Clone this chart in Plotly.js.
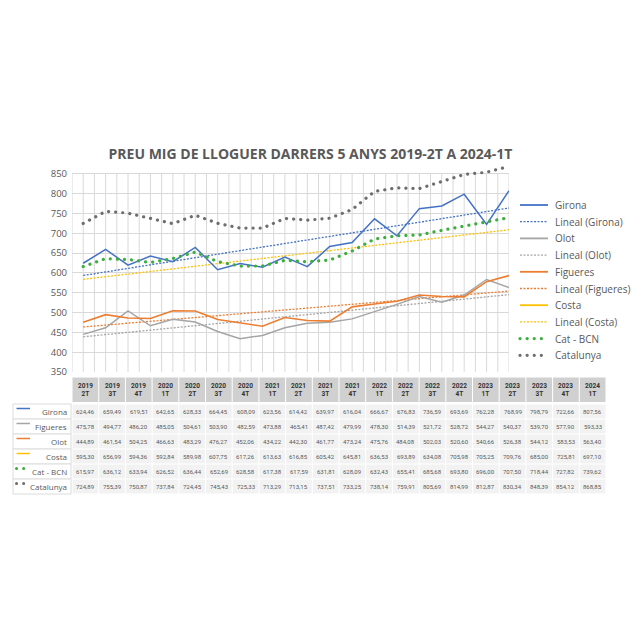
<!DOCTYPE html>
<html><head><meta charset="utf-8">
<script src="https://cdn.plot.ly/plotly-3.0.1.min.js"></script>
<style>
html,body{margin:0;padding:0;background:#fff}
#chart{width:640px;height:640px}
path[style*="dasharray: 0.1px"]{stroke-linecap:round}
</style></head><body><div id="chart"></div>
<script>
// ---------- DATA ----------
const categories = ['2019 2T','2019 3T','2019 4T','2020 1T','2020 2T','2020 3T','2020 4T','2021 1T','2021 2T','2021 3T','2021 4T','2022 1T','2022 2T','2022 3T','2022 4T','2023 1T','2023 2T','2023 3T','2023 4T','2024 1T'];
const girona    = [624.46,659.49,619.51,642.65,628.33,664.45,608.09,623.56,614.42,639.97,616.04,666.67,676.83,736.59,693.69,762.28,768.99,798.79,722.66,807.56];
const figueres  = [475.78,494.77,486.20,485.05,504.61,503.90,482.59,473.88,465.41,487.42,479.99,478.30,514.39,521.72,528.72,544.27,540.37,539.70,577.90,593.33];
const olot      = [444.89,461.54,504.25,466.63,483.29,476.27,452.06,434.22,442.30,461.77,473.24,475.76,484.08,502.03,520.60,540.66,526.38,544.12,583.53,563.40];
const costa     = [595.30,656.99,594.36,592.84,589.98,607.75,617.26,613.63,616.85,605.42,645.81,636.53,693.89,634.08,705.98,705.25,709.76,685.00,725.81,697.10];
const catBcn    = [615.97,636.12,633.94,626.52,636.44,652.69,628.58,617.38,617.59,631.81,628.09,632.43,655.41,685.68,693.80,696.00,707.50,718.44,727.82,739.62];
const catalunya = [724.89,755.39,750.87,737.84,724.45,745.43,725.33,713.29,713.15,737.51,733.25,738.14,759.91,805.69,814.99,812.87,830.34,848.39,854.12,868.85];
const yTicks = [350,400,450,500,550,600,650,700,750,800,850];
const titleText = 'PREU MIG DE LLOGUER DARRERS 5 ANYS 2019-2T A 2024-1T';
const legendNames = ['Girona','Lineal (Girona)','Olot','Lineal (Olot)','Figueres','Lineal (Figueres)','Costa','Lineal (Costa)','Cat - BCN','Catalunya'];
const tableRowNames = ['Girona','Figueres','Olot','Costa','Cat - BCN','Catalunya'];
const tableRowValues = [girona, figueres, olot, costa, catBcn, catalunya];

// ---------- STYLE ----------
const C = {girona:'#4472C4', olot:'#A5A5A5', figueres:'#ED7D31', costa:'#FFC000', cat:'#3DAE3D', catalunya:'#6E6E6E'};
const DOTS = '0.1px,7px';
const TREND = '2px,1.5px';
const textGray = '#595959';

// geometry (pixels)
const L = 72, R = 509, T = 162, B = 372;
const px = x => (x - L) / (R - L);
const py = y => (B - y) / (B - T);

const idx = categories.map((_, i) => i);
function linfit(ys){
  const n = ys.length; let sx=0, sy=0, sxx=0, sxy=0;
  ys.forEach((y,i)=>{sx+=i; sy+=y; sxx+=i*i; sxy+=i*y;});
  const m = (n*sxy - sx*sy)/(n*sxx - sx*sx); const b = (sy - m*sx)/n;
  return [b, b + m*(n-1)];
}
function trend(ys, color){
  return {x:[0, ys.length-1], y:linfit(ys), mode:'lines', line:{color, width:1.3, dash:TREND}, hoverinfo:'skip', showlegend:false};
}
function series(ys, color, width, dash){
  return {x:idx, y:ys, mode:'lines', line:{color, width, dash:dash||'solid'}, showlegend:false};
}

const traces = [
  trend(girona, C.girona), trend(olot, C.olot), trend(figueres, C.figueres), trend(costa, C.costa),
  series(olot, C.olot, 1.5), series(figueres, C.figueres, 1.6), series(girona, C.girona, 1.5),
  series(catBcn, C.cat, 3.2, DOTS), series(catalunya, C.catalunya, 3.2, DOTS)
];

const shapes = [];
const annotations = [];

// vertical gridlines (half-category), limited to 350..850
for (let k = 0; k <= 39; k++) {
  const xv = -0.5 + 0.5*k;
  shapes.push({type:'line', xref:'x', yref:'y', x0:xv, x1:xv, y0:yTicks[0], y1:yTicks[yTicks.length-1], line:{color:'#D9D9D9', width:1}, layer:'below'});
}

// legend (custom)
const legendStyles = [
  [C.girona,1.8,'solid'],[C.girona,1.3,TREND],[C.olot,1.8,'solid'],[C.olot,1.3,TREND],
  [C.figueres,1.8,'solid'],[C.figueres,1.3,TREND],[C.costa,1.8,'solid'],[C.costa,1.3,TREND],
  [C.cat,3.2,DOTS],[C.catalunya,3.2,DOTS]
];
legendNames.forEach((name, i) => {
  const yy = 205 + 16.7*i;
  const st = legendStyles[i];
  shapes.push({type:'line', xref:'paper', yref:'paper', x0:px(520), x1:px(548), y0:py(yy), y1:py(yy), line:{color:st[0], width:st[1], dash:st[2]}});
  annotations.push({xref:'paper', yref:'paper', x:px(553), y:py(yy), xanchor:'left', yanchor:'middle', text:name, showarrow:false, font:{family:'Open Sans', size:10, color:textGray}});
});

// table
const colW = 26.7, tx0 = 72, hTop = 377.5, hBot = 402, rowH = 15, rTop = 404;
categories.forEach((c, j) => {
  const x0 = tx0 + j*colW;
  shapes.push({type:'rect', xref:'paper', yref:'paper', x0:px(x0+0.5), x1:px(x0+colW-0.5), y0:py(hTop), y1:py(hBot), fillcolor:'#D0D0D0', line:{width:0}, layer:'below'});
  const parts = c.split(' ');
  annotations.push({xref:'paper', yref:'paper', x:px(x0+colW/2), y:py((hTop+hBot)/2), xanchor:'center', yanchor:'middle', text:'<b>'+parts[0]+'<br>'+parts[1]+'</b>', showarrow:false, font:{family:'Liberation Sans Narrow, Roboto', size:6.5, color:'#333333'}});
});
const markerStyles = [
  [C.girona,1.5,'solid'],[C.olot,1.5,'solid'],[C.figueres,1.5,'solid'],[C.costa,1.5,'solid'],[C.cat,3,DOTS],[C.catalunya,3,DOTS]
];
tableRowNames.forEach((name, r) => {
  const y0 = rTop + r*rowH, yc = y0 + rowH/2;
  shapes.push({type:'rect', xref:'paper', yref:'paper', x0:px(13), x1:px(71), y0:py(y0), y1:py(y0+rowH), fillcolor:'#FFFFFF', line:{color:'#DCDCDC', width:1}, layer:'below'});
  const ms = markerStyles[r];
  shapes.push({type:'line', xref:'paper', yref:'paper', x0:px(16.5), x1:px(30), y0:py(yc-3), y1:py(yc-3), line:{color:ms[0], width:ms[1], dash:ms[2]}});
  annotations.push({xref:'paper', yref:'paper', x:px(69), y:py(yc), xanchor:'right', yanchor:'middle', text:name, showarrow:false, font:{family:'Open Sans', size:8, color:textGray}});
  tableRowValues[r].forEach((v, j) => {
    const x0 = tx0 + j*colW;
    shapes.push({type:'rect', xref:'paper', yref:'paper', x0:px(x0+0.5), x1:px(x0+colW-0.5), y0:py(y0+0.5), y1:py(y0+rowH-0.5), fillcolor:'#F2F2F2', line:{width:0}, layer:'below'});
    annotations.push({xref:'paper', yref:'paper', x:px(x0+colW/2), y:py(yc), xanchor:'center', yanchor:'middle', text:v.toFixed(2).replace('.', ','), showarrow:false, font:{family:'Liberation Sans Narrow, Roboto', size:6, color:'#595959'}});
  });
});

const layout = {
  width:640, height:640,
  margin:{l:L, r:640-R, t:T, b:640-B, pad:0},
  paper_bgcolor:'#FFFFFF', plot_bgcolor:'rgba(0,0,0,0)',
  showlegend:false,
  title:{text:'<b>'+titleText+'</b>', x:310.5/640, xref:'container', xanchor:'center', y:1-154/640, yref:'container', yanchor:'middle', font:{family:'Open Sans', size:14, color:textGray}},
  xaxis:{range:[-0.5, categories.length-1], showgrid:false, zeroline:false, showticklabels:false, showline:false, ticks:'', fixedrange:true},
  yaxis:{range:[350, 880], tickvals:yTicks, showgrid:true, gridcolor:'#D9D9D9', gridwidth:1, zeroline:false, showline:false, ticks:'', ticklabelstandoff:4, tickfont:{family:'Open Sans', size:9.5, color:textGray}, fixedrange:true},
  shapes, annotations
};
Plotly.newPlot('chart', traces, layout, {displayModeBar:false, staticPlot:true});
</script></body></html>
